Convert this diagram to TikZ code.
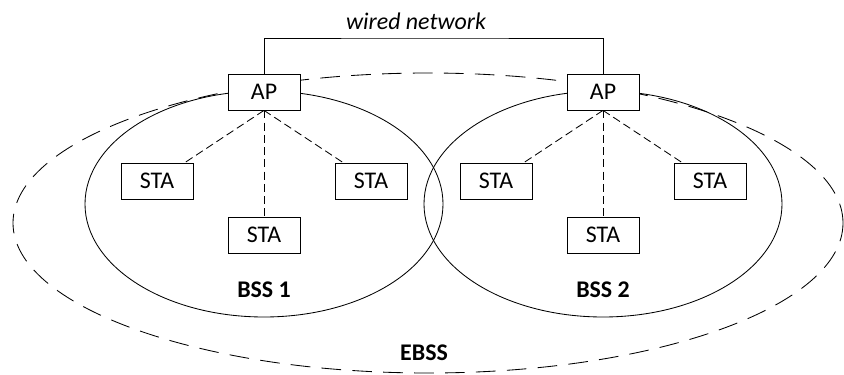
\documentclass[tikz,border=0pt]{standalone}
\usepackage{fontspec}
\setmainfont{Carlito}
\usepackage{tikz}
\usepackage{xcolor}
\usetikzlibrary{positioning}

\begin{document}
\begin{tikzpicture}[semithick,on grid,
                box node/.style={rectangle,draw,fill=white,minimum width=1.8cm,
                  minimum height=0.9cm,font=\fontsize{17}{20}\selectfont},
                radio/.style={dash pattern=on 5.7pt off 3pt},
                area label/.style={font=\fontsize{17}{20}\selectfont\bfseries}]

  \useasboundingbox (0,0) rectangle (21.1,9.35);

  % coverage areas
  \draw[dash pattern=on 14pt off 8pt] (10.7,3.775) ellipse [x radius=10.375cm, y radius=3.75cm];
  \draw (6.6,4.25) ellipse [x radius=4.475cm, y radius=2.825cm];
  \draw (15.075,4.25) ellipse [x radius=4.475cm, y radius=2.825cm];

  \node[box node] (1) at (6.6,7.05) {AP};
  \node[box node] (2) [below left=2.225cm and 2.675cm of 1] {STA};
  \node[box node] (3) [below=3.575cm of 1] {STA};
  \node[box node] (4) [below right=2.225cm and 2.675cm of 1] {STA};

  \node[box node] (5) [right=8.475cm of 1] {AP};
  \node[box node] (6) [below left=2.225cm and 2.675cm of 5] {STA};
  \node[box node] (7) [below=3.575cm of 5] {STA};
  \node[box node] (8) [below right=2.225cm and 2.675cm of 5] {STA};

  \node[area label] (9) [below=4.95cm of 1] {BSS 1};
  \node[area label] (10) [below=4.95cm of 5] {BSS 2};
  \node[area label] (11) at (10.6,0.525) {EBSS};

  \coordinate (w) at (10.4,8.4);
  \node[font=\fontsize{17}{20}\selectfont\itshape] (12) at (10.4,8.82) {wired network};

  \draw (1.north) |- (w) -| (5.north);

  \path[radio]
    (1.south) edge (2)
              edge (3)
              edge (4)
    (5.south) edge (6)
              edge (7)
              edge (8);
\end{tikzpicture}
\end{document}
